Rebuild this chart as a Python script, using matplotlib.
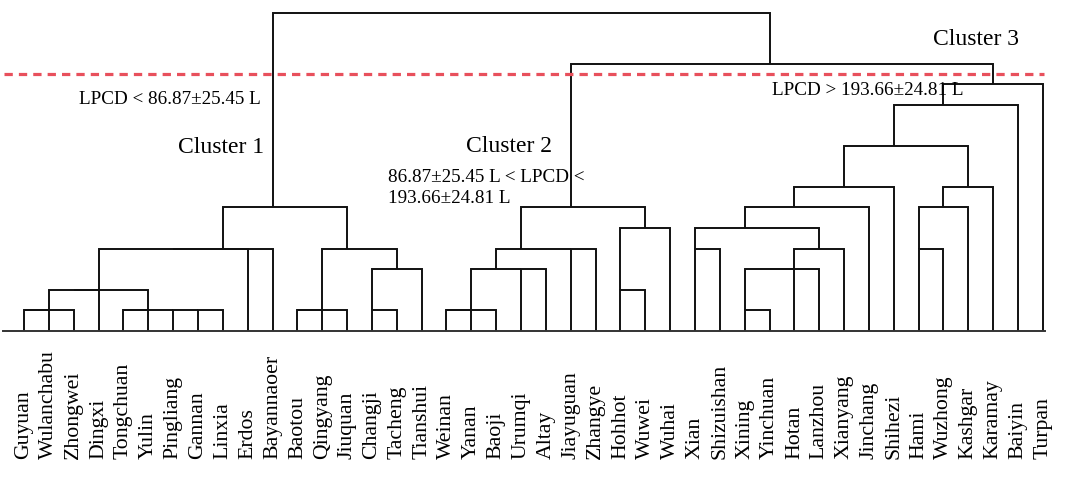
import matplotlib
matplotlib.use('Agg')
from matplotlib import pyplot as plt

# leaf order along the bottom
cities = ['Guyuan', 'Wulanchabu', 'Zhongwei', 'Dingxi', 'Tongchuan', 'Yulin', 'Pingliang',
          'Gannan', 'Linxia', 'Erdos', 'Bayannaoer', 'Baotou', 'Qingyang', 'Jiuquan',
          'Changji', 'Tacheng', 'Tianshui', 'Weinan', 'Yanan', 'Baoji', 'Urumqi', 'Altay',
          'Jiayuguan', 'Zhangye', 'Hohhot', 'Wuwei', 'Wuhai', 'Xian', 'Shizuishan', 'Xining',
          'Yinchuan', 'Hotan', 'Lanzhou', 'Xianyang', 'Jinchang', 'Shihezi', 'Hami',
          'Wuzhong', 'Kashgar', 'Karamay', 'Baiyin', 'Turpan']

# merges: (distance level, left, right)
cluster1 = (6,
            (4, (4, (2, (2, (1, (1, 'Guyuan', 'Wulanchabu'), 'Zhongwei'), 'Dingxi'),
                     (1, (1, 'Tongchuan', 'Yulin'), (1, 'Pingliang', (1, 'Gannan', 'Linxia')))),
                 'Erdos'),
             'Bayannaoer'),
            (4, (1, (1, 'Baotou', 'Qingyang'), 'Jiuquan'),
             (3, (1, 'Changji', 'Tacheng'), 'Tianshui')))

cluster2 = (6,
            (4, (3, (1, (1, 'Weinan', 'Yanan'), 'Baoji'), (3, 'Urumqi', 'Altay')),
             (4, 'Jiayuguan', 'Zhangye')),
            (5, (2, 'Hohhot', 'Wuwei'), 'Wuhai'))

cluster3 = (12,
            (11, (9, (7, (6, (5, (4, 'Xian', 'Shizuishan'),
                              (4, (3, (3, (1, 'Xining', 'Yinchuan'), 'Hotan'), 'Lanzhou'),
                               'Xianyang')),
                          'Jinchang'),
                      'Shihezi'),
                  (7, (6, (4, 'Hami', 'Wuzhong'), 'Kashgar'), 'Karamay')),
             'Baiyin'),
            'Turpan')

tree = (15.5, cluster1, (13, cluster2, cluster3))
cut_level = 12.5

W, H = 1079, 490
fig = plt.figure(figsize=(W / 100, H / 100), dpi=100)
ax = fig.add_axes([0, 0, 1, 1])
ax.axis('off')
ax.set_xlim(-24 / 24.85, (W - 24) / 24.85)
ax.set_ylim(-(H - 330.5) / 20.5, 330.5 / 20.5)

def draw(node):
    if isinstance(node, str):
        return cities.index(node), 0.0
    h, left, right = node
    xl, hl = draw(left)
    xr, hr = draw(right)
    ax.plot([xl, xl, xr, xr], [hl, h, h, hr], color='#111111', lw=1.4,
            solid_joinstyle='miter', solid_capstyle='butt')
    return (xl + xr) // 2, h

draw(tree)

n = len(cities)
ax.plot([-0.83, n - 1 + 0.1], [0, 0], color='#333333', lw=1.4)
ax.plot([-0.8, n - 1 + 0.05], [cut_level, cut_level], color='#e8505c', lw=2.3,
        dashes=(2.6, 1.9))

serif = ['Liberation Serif', 'DejaVu Serif']
label_y = -(459 - 330.5) / 20.5
for i, name in enumerate(cities):
    ax.text(i, label_y, name, rotation=90, ha='center', va='bottom',
            fontsize=15.7, family=serif)

def note(x, y, s, size):
    fig.text(x / W, 1 - y / H, s, fontsize=size, family=serif, va='baseline', ha='left')

note(79, 104, 'LPCD < 86.87\u00b125.45 L', 13.8)
note(178, 153, 'Cluster 1', 17)
note(466, 152, 'Cluster 2', 17)
note(388, 182, '86.87\u00b125.45 L < LPCD <', 13.8)
note(388, 203, '193.66\u00b124.81 L', 13.8)
note(772, 95, 'LPCD > 193.66\u00b124.81 L', 13.8)
note(933, 45, 'Cluster 3', 17)

fig.savefig('out.png', dpi=100)
